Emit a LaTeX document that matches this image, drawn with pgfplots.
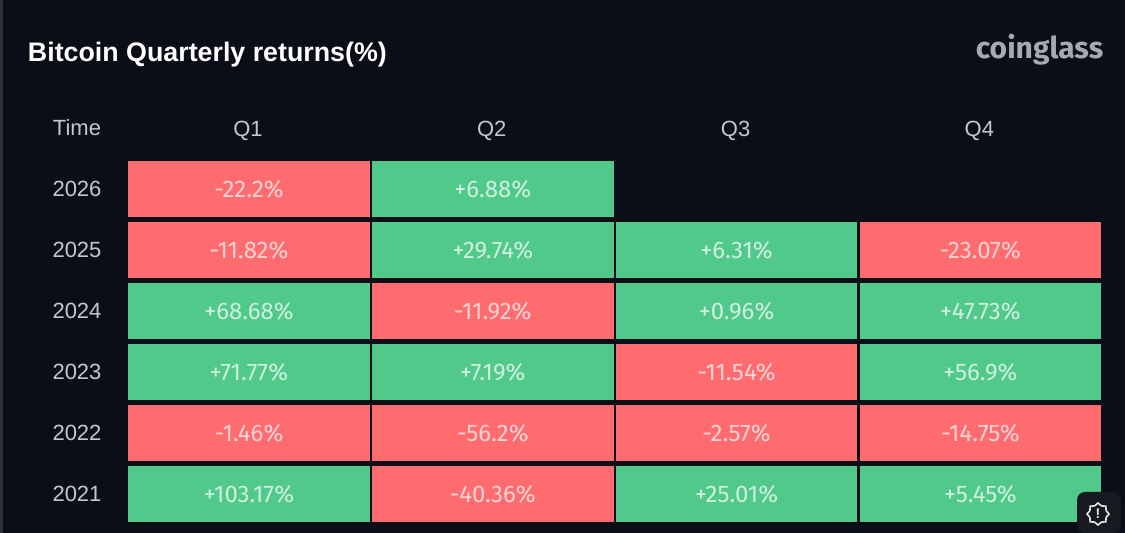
\documentclass[border=0pt]{standalone}
\usepackage{fontspec}
\setmainfont{Liberation Sans}
\newfontfamily\cellfont{Fira Sans}
\usepackage{pgfplots}
\usepackage{pgfplotstable}
\pgfplotsset{compat=1.18}
\usetikzlibrary{shapes.geometric}

\definecolor{bg}{HTML}{0B0E17}
\definecolor{lossred}{HTML}{FE6C6F}
\definecolor{gaingreen}{HTML}{50C98A}
\definecolor{headgrey}{HTML}{C4C7CE}
\definecolor{logogrey}{HTML}{A6A9B3}
\definecolor{badge}{HTML}{161920}

% one table cell: 241.6 x 56.5 px at 0.5pt per px
\pgfdeclareplotmark{cell}{%
 \pgfpathrectangle{\pgfpoint{-60.4pt}{-14.15pt}}{\pgfpoint{120.8pt}{28.3pt}}%
 \pgfusepathqfill}

\pgfplotstableread{
q year ret
0 2026 -22.2
0 2025 -11.82
1 2024 -11.92
2 2023 -11.54
0 2022 -1.46
1 2022 -56.2
2 2022 -2.57
3 2022 -14.75
3 2025 -23.07
1 2021 -40.36
}\losses

\pgfplotstableread{
q year ret
1 2026 +6.88
1 2025 +29.74
2 2025 +6.31
0 2024 +68.68
2 2024 +0.96
3 2024 +47.73
0 2023 +71.77
1 2023 +7.19
3 2023 +56.9
0 2021 +103.17
2 2021 +25.01
3 2021 +5.45
}\gains

\begin{document}
\begin{tikzpicture}
 \begin{axis}[
  name=ax,
  width=562.5pt,
  height=266.5pt,
  scale only axis,
  xmin=-1.0213, xmax=3.5931,
  ymin=2020.3607, ymax=2029.0984,
  axis background/.style={fill=bg},
  axis line style={draw=none},
  tick style={draw=none},
  xtick={0,1,2,3},
  xticklabels={Q1,Q2,Q3,Q4},
  xticklabel pos=upper,
  ytick={2021,2022,2023,2024,2025,2026,2027},
  yticklabels={2021,2022,2023,2024,2025,2026,Time},
  yticklabel pos=left,
  tick label style={font=\fontsize{11}{12}\selectfont, text=headgrey},
  x tick label style={anchor=center, yshift=-62.5pt, xshift=-0.5pt},
  y tick label style={anchor=center, xshift=35.5pt},
  tick align=inside,
  major tick length=0pt,
  xticklabel shift=-3pt,
  yticklabel shift=-3pt,
  title={\textbf{Bitcoin Quarterly returns(\%)}},
  title style={at={(axis description cs:0.0245,0.8757)}, anchor=west, text=white,
   font=\fontsize{13.4}{16}\selectfont, inner sep=0pt},
  only marks,
  mark=cell,
  point meta=explicit symbolic,
  nodes near coords={\pgfplotspointmeta\%},
  every node near coord/.style={anchor=center, inner sep=0pt,
   font=\cellfont\fontsize{12}{13}\selectfont},
  clip=false]
  \addplot[lossred, every node near coord/.append style={text=white!70!lossred}]
   table[x=q, y=year, meta=ret] {\losses};
  \addplot[gaingreen, every node near coord/.append style={text=white!72!gaingreen}]
   table[x=q, y=year, meta=ret] {\gains};
  \node[anchor=east, inner sep=0pt, text=logogrey, font=\cellfont\bfseries\fontsize{15}{16}\selectfont]
   at (axis description cs:0.981,0.907) {coinglass};
  \fill[white!14!bg] (axis description cs:0,0) rectangle (axis description cs:0.0027,1);
 \end{axis}
 % feedback badge, bottom right, in px from the corner of the axis
 \begin{scope}[shift={(ax.south west)}, x=0.5pt, y=0.5pt]
  \fill[badge, rounded corners=4pt] (1077,0) rectangle (1121,41);
  \node[star, star points=8, star point ratio=1.25, minimum size=11pt, inner sep=0pt,
   draw=white!90!bg, line width=0.8pt] at (1098,19) {};
  \node[inner sep=0pt, text=white!90!bg, font=\bfseries\fontsize{7}{8}\selectfont] at (1098,19) {!};
 \end{scope}
\end{tikzpicture}
\end{document}
